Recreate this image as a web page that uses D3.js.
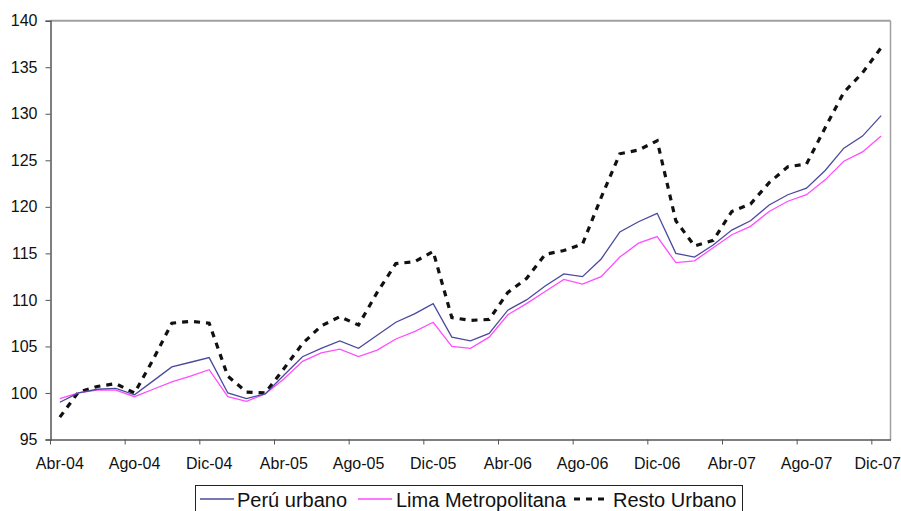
<!DOCTYPE html>
<html><head><meta charset="utf-8">
<script src="https://cdn.jsdelivr.net/npm/d3@7"></script>
<style>
html,body{margin:0;padding:0;background:#fff;}
svg{display:block;font-family:"Liberation Sans",Arial,sans-serif;}
</style></head>
<body>
<svg id="chart" width="901" height="511"></svg>
<script>
const months = ["Abr-04","May-04","Jun-04","Jul-04","Ago-04","Sep-04","Oct-04","Nov-04","Dic-04",
"Ene-05","Feb-05","Mar-05","Abr-05","May-05","Jun-05","Jul-05","Ago-05","Sep-05","Oct-05","Nov-05","Dic-05",
"Ene-06","Feb-06","Mar-06","Abr-06","May-06","Jun-06","Jul-06","Ago-06","Sep-06","Oct-06","Nov-06","Dic-06",
"Ene-07","Feb-07","Mar-07","Abr-07","May-07","Jun-07","Jul-07","Ago-07","Sep-07","Oct-07","Nov-07","Dic-07"];
const tickLabels = ["Abr-04","Ago-04","Dic-04","Abr-05","Ago-05","Dic-05","Abr-06","Ago-06","Dic-06","Abr-07","Ago-07","Dic-07"];
const yTicks = [95,100,105,110,115,120,125,130,135,140];

const peruUrbano = [99.0,100.0,100.4,100.5,99.8,101.3,102.8,103.3,103.8,
100.0,99.4,99.9,101.9,103.9,104.8,105.6,104.8,106.2,107.6,108.5,109.6,
106.0,105.6,106.4,108.9,110.0,111.5,112.8,112.5,114.4,117.3,118.4,119.3,
115.0,114.6,115.9,117.5,118.5,120.2,121.3,122.0,123.9,126.3,127.6,129.8];
const limaMetropolitana = [99.4,100.0,100.3,100.3,99.6,100.4,101.2,101.8,102.5,
99.6,99.1,99.9,101.5,103.4,104.3,104.7,103.9,104.6,105.8,106.6,107.6,
105.0,104.8,106.0,108.4,109.6,110.9,112.2,111.7,112.5,114.6,116.1,116.8,
114.0,114.2,115.6,117.0,117.9,119.5,120.6,121.3,122.9,124.9,125.9,127.6];
const restoUrbano = [97.4,100.1,100.7,101.0,100.0,103.6,107.5,107.7,107.5,
101.8,100.1,100.0,102.6,105.3,107.2,108.2,107.3,110.8,113.9,114.1,115.2,
108.1,107.8,107.9,110.8,112.3,114.9,115.3,116.0,121.0,125.7,126.1,127.1,
118.5,115.8,116.4,119.5,120.3,122.6,124.3,124.6,128.5,132.3,134.4,137.1];

const seriesNames = ["Perú urbano","Lima Metropolitana","Resto Urbano"];

const svg = d3.select("#chart");
const x = d3.scaleBand().domain(months).range([50.5, 890.5]).padding(0);
const y = d3.scaleLinear().domain([95,140]).range([439.5, 20.7]);
const bw = x.bandwidth();

// plot frame: top and right gray lines
svg.append("line").attr("x1",x.range()[0]).attr("x2",x.range()[1]).attr("y1",y(140)).attr("y2",y(140))
  .attr("stroke","#a0a0a0").attr("stroke-width",2);
svg.append("line").attr("x1",x.range()[1]).attr("x2",x.range()[1]).attr("y1",y(140)).attr("y2",y(95))
  .attr("stroke","#a0a0a0").attr("stroke-width",1.5);

// y axis
const yAxis = svg.append("g").attr("transform",`translate(${x.range()[0]},0)`)
  .call(d3.axisLeft(y).tickValues(yTicks).tickSize(5).tickPadding(8).tickFormat(d3.format("d")));
yAxis.select(".domain").attr("stroke","#555").attr("stroke-width",1.5);
yAxis.selectAll(".tick line").attr("stroke","#555");
yAxis.selectAll(".tick text").attr("font-size","16px").attr("fill","#111")
  .attr("font-family","Liberation Sans, Arial, sans-serif");

// x axis
const xAxis = svg.append("g").attr("transform",`translate(0,${y(95)})`)
  .call(d3.axisBottom(x).tickValues(tickLabels).tickSize(5).tickPadding(13).tickSizeOuter(0));
xAxis.select(".domain").attr("stroke","#555").attr("stroke-width",1.5);
xAxis.selectAll(".tick line").attr("stroke","#555").attr("transform",`translate(${-bw/2},0)`);
xAxis.selectAll(".tick text").attr("font-size","16px").attr("fill","#111")
  .attr("font-family","Liberation Sans, Arial, sans-serif");
// keep the last label inside the page, as in the reference
xAxis.selectAll(".tick text").filter(d=>d==="Dic-07").attr("dx",-3.5);

const line = d3.line().x((d,i)=>x(months[i])+bw/2).y(d=>y(d));

svg.append("path").datum(restoUrbano).attr("d",line).attr("fill","none")
  .attr("stroke","#111").attr("stroke-width",3.2).attr("stroke-dasharray","6,6");
svg.append("path").datum(limaMetropolitana).attr("d",line).attr("fill","none")
  .attr("stroke","#ff4dff").attr("stroke-width",1.3);
svg.append("path").datum(peruUrbano).attr("d",line).attr("fill","none")
  .attr("stroke","#4a4a9c").attr("stroke-width",1.3);

// legend
const lg = svg.append("g");
lg.append("rect").attr("x",195.5).attr("y",485.5).attr("width",547).attr("height",30)
  .attr("fill","#fff").attr("stroke","#222").attr("stroke-width",1);
const items = [
  {name:seriesNames[0], x1:200, x2:234, tx:237, stroke:"#4a4a9c", w:1.3, dash:null},
  {name:seriesNames[1], x1:358, x2:392, tx:396, stroke:"#ff4dff", w:1.3, dash:null},
  {name:seriesNames[2], x1:574, x2:610, tx:613, stroke:"#111", w:3, dash:"6,6"}
];
items.forEach(it=>{
  lg.append("line").attr("x1",it.x1).attr("x2",it.x2).attr("y1",499).attr("y2",499)
    .attr("stroke",it.stroke).attr("stroke-width",it.w).attr("stroke-dasharray",it.dash);
  lg.append("text").attr("x",it.tx).attr("y",507).attr("font-size","20px").attr("fill","#111")
    .text(it.name);
});
</script>
</body></html>
